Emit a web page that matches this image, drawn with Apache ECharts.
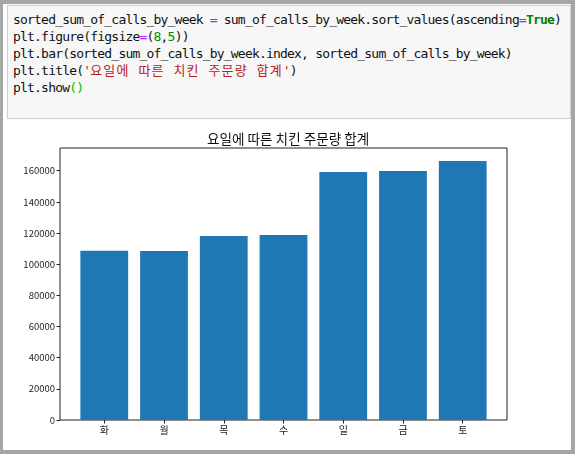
<!DOCTYPE html>
<html>
<head>
<meta charset="utf-8">
<script src="https://cdn.jsdelivr.net/npm/echarts@6/dist/echarts.min.js"></script>
<style>
  html, body { margin: 0; padding: 0; background: #fff; }
  #frame { position: absolute; left: 0; top: 0; width: 575px; height: 454px; box-sizing: border-box;
           border-style: solid; border-color: #a6a6a6; border-width: 4px 4px 4px 3px; background: #fff; }
  #cell { position: absolute; left: 7px; top: 5px; width: 564px; height: 114px; box-sizing: border-box;
          background: #f7f7f7; border: 1px solid #cfcfcf; }
  #code { position: absolute; left: 13px; top: 11px; margin: 0; white-space: pre;
          font-family: "DejaVu Sans Mono", "Noto Sans CJK KR", monospace; font-size: 13px;
          letter-spacing: -0.8px; line-height: 17px; color: #111; }
  .op { color: #aa22ff; }
  .kw { color: #008000; font-weight: bold; }
  .num { color: #008800; }
  .str { color: #ba2121; }
  .ko { letter-spacing: 1.1px; }
  .mb { color: #00bb00; }
  #chart { position: absolute; left: 0; top: 0; width: 575px; height: 454px; }
</style>
</head>
<body>
<div id="frame"></div>
<div id="cell"></div>
<pre id="code">sorted_sum_of_calls_by_week <span class="op">=</span> sum_of_calls_by_week.sort_values(ascending<span class="op">=</span><span class="kw">True</span>)
plt.figure(figsize<span class="op">=</span>(<span class="num">8</span>,<span class="num">5</span>))
plt.bar(sorted_sum_of_calls_by_week.index, sorted_sum_of_calls_by_week)
plt.title(<span class="str">'<span class="ko">요일에 따른 치킨 주문량 합계</span>'</span>)
plt.show<span class="mb">()</span></pre>
<div id="chart"></div>
<script>
const chartTitle = '요일에 따른 치킨 주문량 합계';
const days = ['화', '월', '목', '수', '일', '금', '토'];
const callSums = [108600, 108500, 118100, 118700, 159200, 159800, 166200];
const yTicks = [0, 20000, 40000, 60000, 80000, 100000, 120000, 140000, 160000];
const yMax = 174600;

const chart = echarts.init(document.getElementById('chart'), null, { renderer: 'canvas' });
const fontFam = '"Noto Sans CJK KR", "Noto Sans", sans-serif';
chart.setOption({
  animation: false,
  title: {
    text: chartTitle, left: 202, top: 127,
    textStyle: { fontSize: 13.6, fontWeight: 'normal', color: '#111', fontFamily: fontFam }
  },
  grid: [
    { left: 74.4, right: 82.4, top: 148, bottom: 34, containLabel: false },
    { left: 60, right: 68, top: 148, bottom: 34, containLabel: false, show: true,
      borderColor: '#222', borderWidth: 1, backgroundColor: 'transparent' }
  ],
  xAxis: [
    { gridIndex: 0, type: 'category', data: days,
      axisLine: { show: false },
      axisTick: { show: true, alignWithLabel: true, length: 3.5, lineStyle: { color: '#222' } },
      axisLabel: { fontSize: 10, color: '#222', margin: 5, fontFamily: fontFam } },
    { gridIndex: 1, type: 'value', min: 0, max: 1, show: false }
  ],
  yAxis: [
    { gridIndex: 0, type: 'value', min: 0, max: yMax, show: false, splitLine: { show: false } },
    { gridIndex: 1, type: 'value', min: 0, max: yMax,
      axisLine: { show: false },
      splitLine: { show: false },
      axisTick: { show: true, length: 3.5, lineStyle: { color: '#222' }, customValues: yTicks },
      axisLabel: { fontSize: 9.5, color: '#222', margin: 5, fontFamily: fontFam, customValues: yTicks,
                   formatter: function (v) { return String(v); } } }
  ],
  series: [{
    type: 'bar', xAxisIndex: 0, yAxisIndex: 0, data: callSums,
    barCategoryGap: '20%', itemStyle: { color: '#1f77b4' }
  }]
});
</script>
</body>
</html>
